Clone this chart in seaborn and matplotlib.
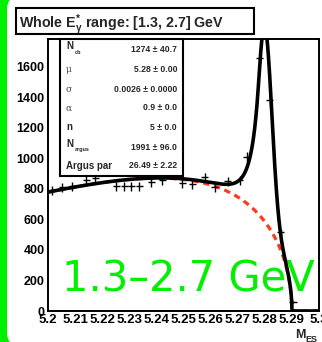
import numpy as np
import pandas as pd
import matplotlib
matplotlib.use("Agg")
import matplotlib.pyplot as plt
import seaborn as sns
from matplotlib.patches import FancyBboxPatch, Rectangle
from matplotlib.ticker import MultipleLocator

W, H, DPI = 322, 342, 100

# binned M_ES data
mes_centres = [5.2015, 5.2052, 5.2089, 5.2141, 5.2174, 5.2252, 5.2281, 5.2307,
               5.2337, 5.2381, 5.2422, 5.2496, 5.2533, 5.2578, 5.2615, 5.2663,
               5.2707, 5.2733, 5.2781, 5.2819, 5.2859, 5.2904]
counts = [790, 810, 817, 856, 869, 817, 817, 817,
          817, 843, 856, 837, 830, 876, 810, 850,
          856, 1006, 1654, 1379, 516, 59]

# fit results (Crystal Ball signal + ARGUS background)
n_cb, n_cb_err = 1274, 40.7
cb_mu, cb_mu_err = 5.28, 0.00
cb_sigma, cb_sigma_err = 0.0026, 0.0000
cb_alpha, cb_alpha_err = 0.9, 0.0
cb_n, cb_n_err = 5, 0.0
n_argus, n_argus_err = 1991, 96.0
argus_par, argus_par_err = 26.49, 2.22
argus_m0 = 5.29

x_ticks = [5.2, 5.21, 5.22, 5.23, 5.24, 5.25, 5.26, 5.27, 5.28, 5.29, 5.3]
x_tick_labels = ["5.2", "5.21", "5.22", "5.23", "5.24", "5.25", "5.26", "5.27", "5.28", "5.29", "5.3"]
y_ticks = [0, 200, 400, 600, 800, 1000, 1200, 1400, 1600]

GREEN = "#00f000"
RED = "#ff3a1a"


def crystal_ball(m):
    t = (m - cb_mu) / cb_sigma
    a = (cb_n / cb_alpha) ** cb_n * np.exp(-cb_alpha ** 2 / 2)
    b = cb_n / cb_alpha - cb_alpha
    tail = a * np.clip(b - t, 1e-9, None) ** (-cb_n)
    return np.where(t > -cb_alpha, np.exp(-t ** 2 / 2), tail)


def argus(m):
    z = 1 - (m / argus_m0) ** 2
    zc = np.clip(z, 0, None)
    return np.where(z > 0, m * np.sqrt(zc) * np.exp(-argus_par * zc), 0.0)


sns.set_theme(style="white")
plt.rcParams["font.family"] = ["Liberation Sans", "DejaVu Sans"]
plt.rcParams["font.weight"] = "bold"
plt.rcParams["mathtext.fontset"] = "custom"
plt.rcParams["mathtext.rm"] = "Liberation Sans:bold"
plt.rcParams["mathtext.it"] = "Liberation Sans:bold"
plt.rcParams["mathtext.bf"] = "Liberation Sans:bold"


def fx(px):
    return px / W


def fy(py):
    return 1 - py / H


fig = plt.figure(figsize=(W / DPI, H / DPI), dpi=DPI)
fig.patch.set_facecolor(GREEN)

# white rounded page on the green background
page = FancyBboxPatch((fx(7), fy(345)), fx(400), fy(-3) - fy(345),
                      boxstyle="round,pad=0,rounding_size=0.035",
                      transform=fig.transFigure, facecolor="white",
                      edgecolor="none", zorder=-2)
fig.patches.append(page)

ax = fig.add_axes([fx(48), fy(311), fx(319) - fx(48), fy(39) - fy(311)])
ax.set_facecolor("none")
ax.set_zorder(1)

grid = np.linspace(5.2, 5.3, 2000)
bkg = n_argus * argus(grid)
total = bkg + n_cb * crystal_ball(grid)
curves = pd.DataFrame({"mes": grid, "bkg": bkg, "total": total})

# big label sitting under the curves
fig.text(fx(62), fy(292), "1.3\u20132.7 GeV", color=GREEN, fontsize=30,
         fontweight="normal", family="DejaVu Sans", ha="left", va="baseline",
         zorder=0)

sns.lineplot(data=curves, x="mes", y="bkg", ax=ax, color=RED, lw=2.3, zorder=2)
ax.lines[-1].set_linestyle((0, (2.0, 1.5)))
sns.lineplot(data=curves, x="mes", y="total", ax=ax, color="black", lw=2.6, zorder=3)

ax.errorbar(mes_centres, counts, xerr=0.0013, yerr=np.sqrt(counts), fmt="none",
            ecolor="black", elinewidth=1.0, capsize=0, zorder=4)

ax.set_xlim(5.2, 5.3)
ax.set_ylim(0, 1780)
ax.set_xticks(x_ticks)
ax.set_xticklabels(x_tick_labels)
ax.set_yticks(y_ticks)
ax.xaxis.set_minor_locator(MultipleLocator(0.002))
ax.yaxis.set_minor_locator(MultipleLocator(40))
ax.tick_params(which="major", direction="in", length=6, width=1.2,
               labelsize=9, pad=2.5, colors="black")
ax.tick_params(axis="x", which="major", labelsize=9.5, pad=2)
ax.tick_params(which="minor", direction="in", length=3, width=1.0, colors="black")
ax.tick_params(top=False, right=False, which="both")
ax.set_xlabel("")
ax.set_ylabel("")
for sp in ax.spines.values():
    sp.set_visible(True)
    sp.set_color("black")
    sp.set_linewidth(1.4)

# axis title
fig.text(fx(295), fy(338), "M", fontsize=9, fontweight="bold", ha="left", va="baseline")
fig.text(fx(305), fy(342), "ES", fontsize=6.5, fontweight="bold", ha="left", va="baseline")

# title box
fig.patches.append(Rectangle((fx(16), fy(34)), fx(254) - fx(16), fy(8) - fy(34),
                             transform=fig.transFigure, facecolor="white",
                             edgecolor="black", lw=1.5, zorder=5))
fig.text(fx(19), fy(28), r"Whole E$^{*}_{\gamma}$ range: [1.3, 2.7] GeV",
         fontsize=10.3, fontweight="bold", ha="left", va="baseline", zorder=6)

# fit-result box
fig.patches.append(Rectangle((fx(60), fy(176)), fx(183) - fx(60), fy(39) - fy(176),
                             transform=fig.transFigure, facecolor="white",
                             edgecolor="black", lw=1.5, zorder=5))

values = [f"{n_cb} \u00b1 {n_cb_err:.1f}",
          f"{cb_mu:.2f} \u00b1 {cb_mu_err:.2f}",
          f"{cb_sigma:.4f} \u00b1 {cb_sigma_err:.4f}",
          f"{cb_alpha:.1f} \u00b1 {cb_alpha_err:.1f}",
          f"{cb_n} \u00b1 {cb_n_err:.1f}",
          f"{n_argus} \u00b1 {n_argus_err:.1f}",
          f"{argus_par:.2f} \u00b1 {argus_par_err:.2f}"]
rows_y = [49, 70, 89, 108, 127, 147, 166]
for yv, txt in zip(rows_y, values):
    fig.text(fx(177), fy(yv), txt, fontsize=6.2, fontweight="bold",
             ha="right", va="center", zorder=6)

# row labels
fig.text(fx(66), fy(rows_y[0] - 3), "N", fontsize=7, fontweight="bold",
         ha="left", va="center", zorder=6)
fig.text(fx(75), fy(rows_y[0] + 3), "cb", fontsize=4, fontweight="bold",
         ha="left", va="center", zorder=6)
for yv, g in zip(rows_y[1:4], ["\u03bc", "\u03c3", "\u03b1"]):
    fig.text(fx(66), fy(yv), g, fontsize=6.5, fontweight="normal",
             family="DejaVu Serif", color="#444444", ha="left", va="center", zorder=6)
fig.text(fx(66), fy(rows_y[4]), "n", fontsize=7, fontweight="bold",
         ha="left", va="center", zorder=6)
fig.text(fx(66), fy(rows_y[5] - 3), "N", fontsize=7, fontweight="bold",
         ha="left", va="center", zorder=6)
fig.text(fx(75), fy(rows_y[5] + 3), "argus", fontsize=4, fontweight="bold",
         ha="left", va="center", zorder=6)
fig.text(fx(66), fy(rows_y[6]), "Argus par", fontsize=7, fontweight="bold",
         ha="left", va="center", zorder=6)

fig.savefig("out.png", dpi=DPI, facecolor=fig.get_facecolor())
